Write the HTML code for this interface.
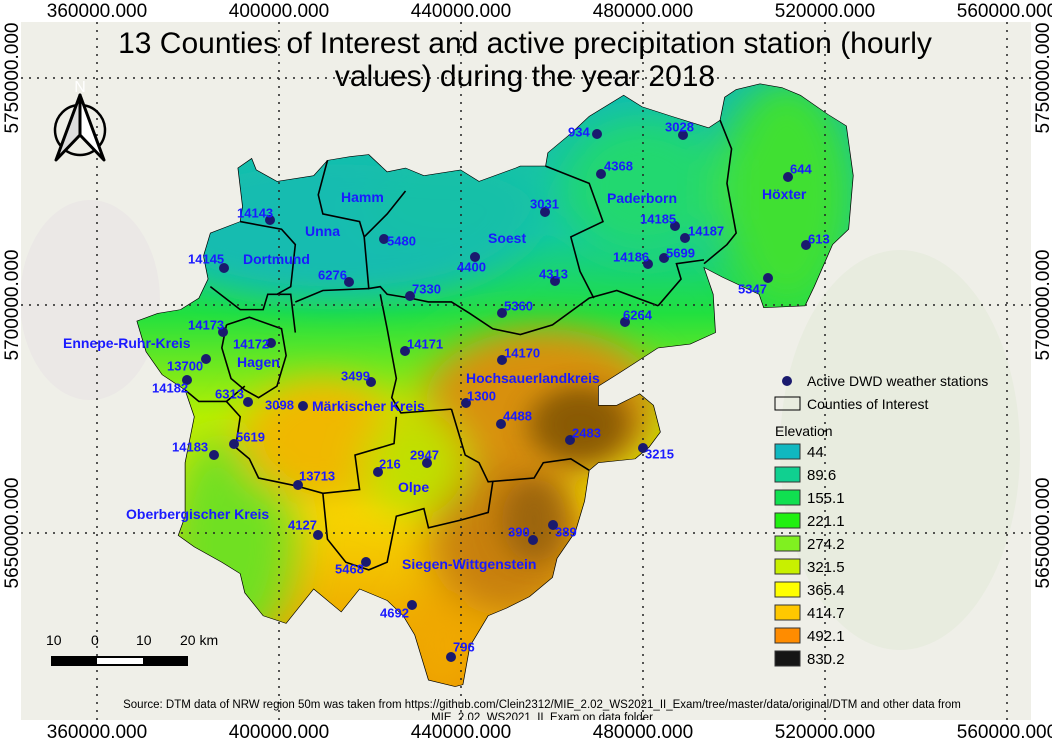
<!DOCTYPE html>
<html><head><meta charset="utf-8">
<style>
html,body{margin:0;padding:0;background:#fff;}
svg{display:block;font-family:"Liberation Sans",sans-serif;}
</style></head>
<body>
<svg id="map" width="1052" height="744" viewBox="0 0 1052 744" xmlns="http://www.w3.org/2000/svg">
<defs>
  <clipPath id="frameClip"><rect x="21" y="22" width="1010" height="698"/></clipPath>
  <filter id="blur" x="-50%" y="-50%" width="200%" height="200%"><feGaussianBlur stdDeviation="45"/></filter>
  <filter id="blur2" x="-50%" y="-50%" width="200%" height="200%"><feGaussianBlur stdDeviation="30"/></filter>
  <linearGradient id="baseGrad" x1="0" y1="0" x2="0" y2="1600" gradientUnits="userSpaceOnUse">
    <stop offset="0" stop-color="#12bcb0"/>
    <stop offset="0.25" stop-color="#14c8a0"/>
    <stop offset="0.38" stop-color="#20e040"/>
    <stop offset="0.55" stop-color="#b8f000"/>
    <stop offset="0.7" stop-color="#f8d800"/>
    <stop offset="1" stop-color="#e89000"/>
  </linearGradient>
</defs>
<rect x="0" y="0" width="1052" height="744" fill="#fff"/>
<g clip-path="url(#frameClip)">
  <rect x="21" y="22" width="1010" height="698" fill="#efefe8"/>
  <ellipse cx="900" cy="450" rx="120" ry="200" fill="#e8ecdf"/>
  <ellipse cx="90" cy="300" rx="70" ry="100" fill="#ebe8e6"/>
  <g transform="translate(130,80) scale(0.4592,0.3827)">
    <clipPath id="regionClip"><path id="outlinePath" d="M175,400 L240,370 245,330 235,230 265,205 275,235 320,265 400,250 430,210 480,200 520,195 560,240 600,230 640,250 720,235 760,265 840,230 850,225 905,225 910,190 960,140 1000,95 1075,40 1115,70 1180,95 1260,125 1285,105 1295,45 1320,25 1372,10 1420,20 1460,40 1520,90 1560,120 1575,250 1565,390 1530,430 1490,540 1470,590 1380,595 1370,560 1290,515 1250,490 1270,560 1275,660 1220,690 1150,700 1060,770 1020,800 1020,850 1060,850 1110,820 1140,850 1155,920 1130,960 1100,990 1020,1000 1000,1020 990,1100 970,1180 930,1250 920,1300 870,1350 820,1380 780,1400 740,1480 725,1580 708,1585 650,1568 620,1450 595,1400 560,1360 500,1330 460,1390 400,1330 340,1420 290,1400 250,1340 240,1290 200,1260 140,1220 105,1190 120,1140 120,1000 140,880 120,810 70,770 35,710 15,630 60,610 110,600 150,570 170,520 160,460 Z"/></clipPath>
    <g clip-path="url(#regionClip)">
      <rect x="0" y="-40" width="1600" height="1640" fill="url(#baseGrad)"/>
      <g filter="url(#blur)">
        <ellipse cx="450" cy="380" rx="420" ry="190" fill="#12bcb0"/>
        <ellipse cx="700" cy="330" rx="200" ry="120" fill="#14c0a8"/>
        <ellipse cx="1120" cy="280" rx="180" ry="180" fill="#20d870"/>
        <ellipse cx="1430" cy="300" rx="150" ry="300" fill="#40e030"/>
        <ellipse cx="220" cy="1200" rx="140" ry="280" fill="#70e020"/>
        <ellipse cx="420" cy="940" rx="180" ry="160" fill="#f0b800"/>
        <ellipse cx="900" cy="850" rx="260" ry="200" fill="#d89010"/>
        <ellipse cx="820" cy="1200" rx="170" ry="200" fill="#c88010"/>
        <ellipse cx="680" cy="1480" rx="80" ry="150" fill="#f0a800"/>
        <ellipse cx="620" cy="1000" rx="110" ry="140" fill="#c0e000"/>
      </g>
      <g filter="url(#blur2)" opacity="0.7">
        <ellipse cx="980" cy="900" rx="110" ry="100" fill="#6a4400"/>
        <ellipse cx="880" cy="1150" rx="70" ry="110" fill="#8a5a08"/>
      </g>
    </g>
    <g fill="none" stroke="#000" stroke-width="1.6" vector-effect="non-scaling-stroke">
      <use href="#outlinePath" vector-effect="non-scaling-stroke"/>
      <polyline vector-effect="non-scaling-stroke" points="430,210 410,300 420,350 500,370 510,410"/>
      <polyline vector-effect="non-scaling-stroke" points="600,290 560,350 510,410"/>
      <polyline vector-effect="non-scaling-stroke" points="510,410 520,545 545,540 560,560 610,570 650,580 700,580 740,610 790,650 850,665 920,640 1000,570 1060,550 1150,590"/>
      <polyline vector-effect="non-scaling-stroke" points="905,225 1000,270 1030,370 960,410 980,500 1010,570"/>
      <polyline vector-effect="non-scaling-stroke" points="1285,105 1310,180 1300,270 1320,400 1300,430 1250,480"/>
      <polyline vector-effect="non-scaling-stroke" points="1150,590 1200,520 1190,480 1250,470"/>
      <polyline vector-effect="non-scaling-stroke" points="240,370 330,390 360,430 350,540 320,560"/>
      <polyline vector-effect="non-scaling-stroke" points="175,540 240,600 290,600 300,560 350,560 360,660"/>
      <polyline vector-effect="non-scaling-stroke" points="360,580 420,550 520,545"/>
      <polyline vector-effect="non-scaling-stroke" points="545,560 560,650 580,780 570,830 590,870 700,860"/>
      <polyline vector-effect="non-scaling-stroke" points="700,860 730,980 760,1000 780,1050 880,1040 900,1000 960,990 1000,1020"/>
      <polyline vector-effect="non-scaling-stroke" points="580,880 575,950 490,980 500,1070 420,1080 360,1060 280,1040 260,990 230,960 240,880 210,840 250,800"/>
      <polyline vector-effect="non-scaling-stroke" points="210,640 260,620 330,650 340,720 320,800 280,830 250,810 220,780 200,700 210,640"/>
      <polyline vector-effect="non-scaling-stroke" points="420,1080 430,1200 470,1260 520,1280 560,1260 580,1140 640,1120 650,1170 720,1150 780,1130 790,1050"/>
      <polyline vector-effect="non-scaling-stroke" points="120,810 150,840 210,840"/>
    </g>
  </g>
  <g id="grid" stroke="#222" stroke-width="1.5" stroke-dasharray="2,6">
    <line x1="97" y1="22" x2="97" y2="720"/><line x1="279" y1="22" x2="279" y2="720"/>
    <line x1="461" y1="22" x2="461" y2="720"/><line x1="643" y1="22" x2="643" y2="720"/>
    <line x1="825" y1="22" x2="825" y2="720"/><line x1="1007" y1="22" x2="1007" y2="720"/>
    <line x1="21" y1="78" x2="1031" y2="78"/><line x1="21" y1="305" x2="1031" y2="305"/>
    <line x1="21" y1="533" x2="1031" y2="533"/>
  </g>
  <g id="stations"></g>
  <g fill="#1a1aff" font-weight="bold" font-size="14">
    <text x="341" y="202">Hamm</text>
    <text x="305" y="236">Unna</text>
    <text x="243" y="264">Dortmund</text>
    <text x="488" y="243">Soest</text>
    <text x="607" y="203">Paderborn</text>
    <text x="762" y="199">Höxter</text>
    <text x="63" y="348">Ennepe-Ruhr-Kreis</text>
    <text x="237" y="367">Hagen</text>
    <text x="466" y="383">Hochsauerlandkreis</text>
    <text x="312" y="411">Märkischer Kreis</text>
    <text x="398" y="492">Olpe</text>
    <text x="126" y="519">Oberbergischer Kreis</text>
    <text x="402" y="569">Siegen-Wittgenstein</text>
  </g>
  <g stroke="#000" stroke-width="3" stroke-linejoin="round">
    <circle cx="80" cy="130" r="25" fill="none" stroke-width="2.5"/>
    <polygon points="80,95 56,160 80,135" fill="#ddd"/>
    <polygon points="80,95 104,160 80,135" fill="#fff"/>
    <text x="80" y="92" fill="#fff" stroke="none" font-size="16" text-anchor="middle">N</text>
  </g>
  <g>
    <text x="46" y="645" font-size="14" fill="#000">10</text>
    <text x="91" y="645" font-size="14" fill="#000">0</text>
    <text x="136" y="645" font-size="14" fill="#000">10</text>
    <text x="180" y="645" font-size="14" fill="#000">20 km</text>
    <rect x="51" y="656" width="137" height="10" fill="#000"/>
    <rect x="97" y="658" width="46" height="6" fill="#fff"/>
  </g>
  <g font-size="30" fill="#000" text-anchor="middle">
    <text x="525" y="53">13 Counties of Interest and active precipitation station (hourly</text>
    <text x="525" y="86">values) during the year 2018</text>
  </g>
  <g font-size="14" fill="#000">
    <circle cx="787" cy="381" r="5" fill="#1a1a6e"/>
    <text x="807" y="386">Active DWD weather stations</text>
    <rect x="775" y="397" width="25" height="13" fill="none" stroke="#000"/>
    <text x="807" y="409">Counties of Interest</text>
    <text x="775" y="436">Elevation</text>
    <g id="elevLegend"></g>
  </g>
  <g font-size="11.5" fill="#000" text-anchor="middle">
    <text x="542" y="708">Source: DTM data of NRW region 50m was taken from https://github.com/Clein2312/MIE_2.02_WS2021_II_Exam/tree/master/data/original/DTM and other data from</text>
    <text x="542" y="721">MIE_2.02_WS2021_II_Exam on data folder</text>
  </g>
</g>
<g font-size="19" fill="#000">
  <text x="97" y="17" text-anchor="middle">360000.000</text>
  <text x="279" y="17" text-anchor="middle">400000.000</text>
  <text x="461" y="17" text-anchor="middle">440000.000</text>
  <text x="643" y="17" text-anchor="middle">480000.000</text>
  <text x="825" y="17" text-anchor="middle">520000.000</text>
  <text x="1007" y="17" text-anchor="middle">560000.000</text>
  <text x="97" y="738" text-anchor="middle">360000.000</text>
  <text x="279" y="738" text-anchor="middle">400000.000</text>
  <text x="461" y="738" text-anchor="middle">440000.000</text>
  <text x="643" y="738" text-anchor="middle">480000.000</text>
  <text x="825" y="738" text-anchor="middle">520000.000</text>
  <text x="1007" y="738" text-anchor="middle">560000.000</text>
  <text transform="translate(18,78) rotate(-90)" text-anchor="middle">5750000.000</text>
  <text transform="translate(18,305) rotate(-90)" text-anchor="middle">5700000.000</text>
  <text transform="translate(18,533) rotate(-90)" text-anchor="middle">5650000.000</text>
  <text transform="translate(1036,78) rotate(-90)" text-anchor="middle" dominant-baseline="hanging">5750000.000</text>
  <text transform="translate(1036,305) rotate(-90)" text-anchor="middle" dominant-baseline="hanging">5700000.000</text>
  <text transform="translate(1036,533) rotate(-90)" text-anchor="middle" dominant-baseline="hanging">5650000.000</text>
</g>
</svg>
<script>
const stationIds = ["934","3028","4368","3031","644","613","5347","14185","14187","14186","5699","4313","4400","5480","14143","14145","6276","7330","5360","6264","14173","14172","14171","14170","13700","14182","3499","6313","3098","1300","4488","2483","3215","14183","5619","2947","216","13713","390","389","4127","5468","4692","796"];
const stationX = [597,683,601,545,788,806,768,675,685,648,664,555,475,384,270,224,349,410,502,625,223,271,405,502,206,187,371,248,303,466,501,570,643,214,234,427,378,298,533,553,318,366,412,451];
const stationY = [134,135,174,212,177,245,278,226,238,264,258,281,257,239,220,268,282,296,313,322,332,343,351,360,359,380,382,402,406,403,424,440,448,455,444,463,472,485,540,525,535,562,605,657];
const labelX = [568,665,604,530,790,808,738,640,688,613,666,539,457,387,237,188,318,412,504,623,188,233,407,504,167,152,341,215,265,467,503,572,645,172,236,410,379,299,508,555,288,335,380,453];
const labelY = [133,128,167,205,170,240,290,220,232,258,254,275,268,242,214,260,276,290,307,316,326,345,345,354,367,389,377,395,406,397,417,434,455,448,438,456,465,477,533,533,526,570,614,648];
const elevLabels = ["44","89.6","155.1","221.1","274.2","321.5","365.4","414.7","492.1","830.2"];
const elevColors = ["#10b8c0","#10d090","#10e050","#20f010","#80f020","#c8f000","#ffff00","#ffc800","#ff8c00","#151515"];
const NS = "http://www.w3.org/2000/svg";
const sg = document.getElementById("stations");
for (let i = 0; i < stationIds.length; i++) {
  const c = document.createElementNS(NS, "circle");
  
  
  c.setAttribute("cx", stationX[i]); c.setAttribute("cy", stationY[i]);
  c.setAttribute("r", 5); c.setAttribute("fill", "#1a1a6e");
  sg.appendChild(c);
}
for (let i = 0; i < stationIds.length; i++) {
  const t = document.createElementNS(NS, "text");
  
  
  t.setAttribute("x", labelX[i]); t.setAttribute("y", labelY[i]);
  t.setAttribute("dominant-baseline", "middle");
  t.setAttribute("fill", "#1a1aff"); t.setAttribute("font-weight", "bold"); t.setAttribute("font-size", "13");
  t.textContent = stationIds[i];
  sg.appendChild(t);
}
const eg = document.getElementById("elevLegend");
for (let i = 0; i < elevLabels.length; i++) {
  const y = 444 + i * 23;
  const r = document.createElementNS(NS, "rect");
  
  
  r.setAttribute("x", 775); r.setAttribute("y", y); r.setAttribute("width", 25); r.setAttribute("height", 15);
  r.setAttribute("fill", elevColors[i]); r.setAttribute("stroke", "#333");
  eg.appendChild(r);
  const t = document.createElementNS(NS, "text");
  
  
  t.setAttribute("x", 807); t.setAttribute("y", y + 13); t.setAttribute("font-size", "15");
  t.textContent = elevLabels[i];
  eg.appendChild(t);
}
</script>
</body></html>
